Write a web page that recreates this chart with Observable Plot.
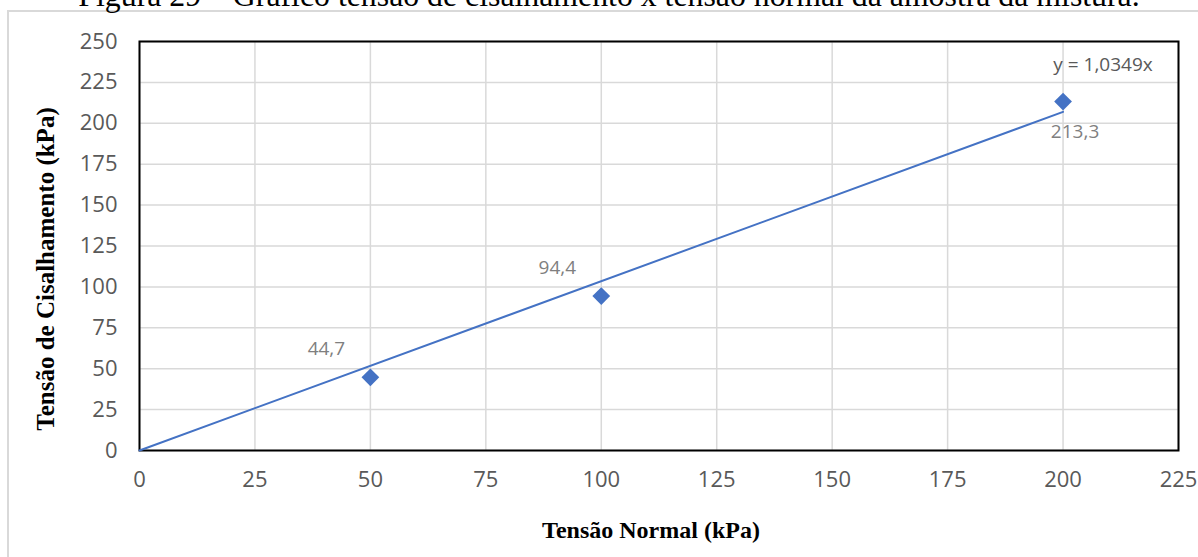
<!DOCTYPE html>
<html>
<head>
<meta charset="utf-8">
<script src="https://cdn.jsdelivr.net/npm/d3@7"></script>
<script src="https://cdn.jsdelivr.net/npm/@observablehq/plot@0.6"></script>
<style>
  html, body { margin: 0; padding: 0; background: #fff; }
  #wrap { position: relative; width: 1198px; height: 557px; overflow: hidden; }
  #border { position: absolute; left: 7px; top: 10px; width: 1400px; height: 900px;
            border-left: 2px solid #d9d9d9; border-top: 2px solid #d9d9d9; }
  #chart { position: absolute; left: 0; top: 0; }
</style>
</head>
<body>
<div id="wrap">
  <div id="border"></div>
  <div id="chart"></div>
</div>
<script>
const titleText = "Figura 29 – Gráfico tensão de cisalhamento x tensão normal da amostra da mistura.";
const xLabel = "Tensão Normal (kPa)";
const yLabel = "Tensão de Cisalhamento (kPa)";

const normalStress = [50, 100, 200];
const shearStress = [44.7, 94.4, 213.3];
const slope = 1.0349;

const xTicks = [0, 25, 50, 75, 100, 125, 150, 175, 200, 225];
const yTicks = [0, 25, 50, 75, 100, 125, 150, 175, 200, 225, 250];

const fmt = v => v.toFixed(1).replace(".", ",");
const points = normalStress.map((x, i) => ({x, y: shearStress[i], label: fmt(shearStress[i])}));
const trendX = [0, d3.max(normalStress)];
const trend = trendX.map(x => ({x, y: slope * x}));
const equation = "y = " + String(slope).replace(".", ",") + "x";

const font = "'Open Sans', sans-serif";
const serif = "'Liberation Serif', 'Times New Roman', serif";

const chart = Plot.plot({
  width: 1198,
  height: 557,
  marginLeft: 139,
  marginRight: 20,
  marginTop: 41,
  marginBottom: 107,
  style: {fontFamily: font, fontSize: "19px", color: "#595959", background: "transparent", overflow: "visible"},
  x: {domain: [0, 225]},
  y: {domain: [0, 250]},
  marks: [
    Plot.gridX(xTicks, {stroke: "#d9d9d9", strokeOpacity: 1, strokeWidth: 1.5}),
    Plot.gridY(yTicks, {stroke: "#d9d9d9", strokeOpacity: 1, strokeWidth: 1.5}),
    Plot.axisX(xTicks, {tickSize: 0, tickPadding: 21, label: null, fill: "#595959", fontSize: 22}),
    Plot.axisY(yTicks, {tickSize: 0, tickPadding: 22, label: null, fill: "#595959", fontSize: 22}),
    Plot.frame({stroke: "black", strokeWidth: 2}),
    Plot.line(trend, {x: "x", y: "y", stroke: "#4472c4", strokeWidth: 2}),
    Plot.dot(points, {x: "x", y: "y", symbol: "diamond2", r: 8, fill: "#4472c4", stroke: "none"}),
    Plot.text(points.slice(0, 2), {x: "x", y: "y", text: "label", dx: -44, dy: -28, fill: "#7f7f7f", fontSize: 19}),
    Plot.text(points.slice(2), {x: "x", y: "y", text: "label", dx: 12, dy: 30, fill: "#7f7f7f", fontSize: 19}),
    Plot.text([trend[trend.length - 1]], {x: "x", y: "y", text: () => equation, dx: 40, dy: -47, fill: "#595959", fontSize: 19}),
    Plot.text([xLabel], {frameAnchor: "bottom", dx: -8, dy: 87, fontFamily: serif, fontWeight: "bold", fontSize: 24, fill: "black"}),
    Plot.text([yLabel], {frameAnchor: "left", textAnchor: "middle", dx: -94, dy: 23, rotate: -90, fontFamily: serif, fontWeight: "bold", fontSize: 25, fill: "black"})
  ]
});
document.getElementById("chart").appendChild(chart);

// title (partially clipped at the top, as in the reference)
const t = d3.select(chart).append("text")
  .attr("x", 609).attr("y", 6)
  .attr("text-anchor", "middle")
  .attr("font-family", serif)
  .attr("font-size", 26)
  .attr("fill", "black")
  .text(titleText);
const w = t.node().getComputedTextLength();
t.attr("font-size", 26 * 1062 / w);
</script>
</body>
</html>
